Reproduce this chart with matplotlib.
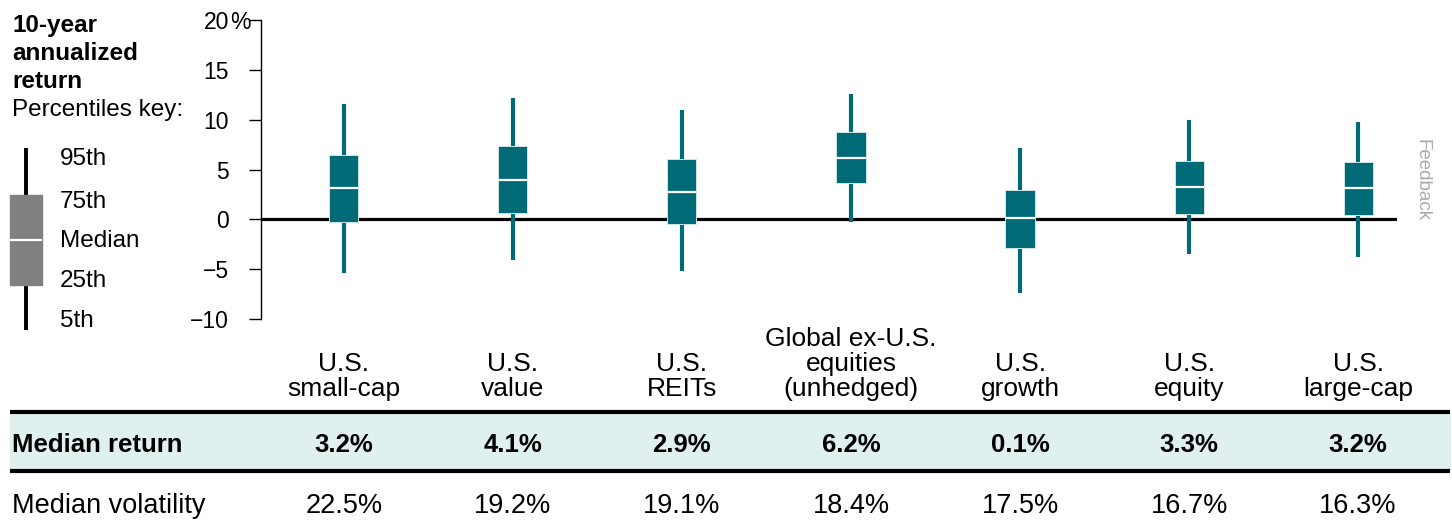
import numpy as np
import matplotlib.pyplot as plt
from matplotlib import transforms
from matplotlib.patches import Rectangle

plt.rcParams['font.family'] = ['Liberation Sans', 'DejaVu Sans']

# percentiles of 10-year annualized return (%)
categories = ["U.S.\nsmall-cap", "U.S.\nvalue", "U.S.\nREITs",
              "Global ex-U.S.\nequities\n(unhedged)", "U.S.\ngrowth",
              "U.S.\nequity", "U.S.\nlarge-cap"]
p95 = [11.6, 12.2, 11.0, 12.6, 7.2, 10.0, 9.8]
p75 = [6.5, 7.4, 6.1, 8.8, 2.9, 5.9, 5.8]
p50 = [3.1, 3.9, 2.7, 6.2, 0.1, 3.2, 3.1]
p25 = [-0.3, 0.6, -0.5, 3.6, -2.9, 0.5, 0.4]
p5 = [-5.4, -4.1, -5.2, -0.3, -7.4, -3.5, -3.8]

median_return = [3.2, 4.1, 2.9, 6.2, 0.1, 3.3, 3.2]
median_volatility = [22.5, 19.2, 19.1, 18.4, 17.5, 16.7, 16.3]

yticks = [-10, -5, 0, 5, 10, 15, 20]
ytick_labels = ["\u221210", "\u22125", "0", "5", "10", "15", "20"]

key_labels = ["95th", "75th", "Median", "25th", "5th"]

teal = "#006b76"

W, H = 1452, 529
fig = plt.figure(figsize=(W / 100, H / 100), dpi=100)

# overlay in pixel coords for the key and table
ov = fig.add_axes([0, 0, 1, 1])
ov.set_xlim(0, W)
ov.set_ylim(H, 0)
ov.axis("off")

ax = fig.add_axes([261 / W, 1 - 319 / H, (1397 - 261) / W, 299 / H])
ax.patch.set_alpha(0)

x = np.arange(len(categories))
p95 = np.array(p95); p75 = np.array(p75); p50 = np.array(p50)
p25 = np.array(p25); p5 = np.array(p5)
bw = 0.172

ax.axhline(0, color="black", lw=2.3, zorder=1)
ax.vlines(x, p5, p95, color=teal, lw=3, zorder=2)
ax.bar(x, p75 - p25, bottom=p25, width=bw, color=teal,
       edgecolor="#cfe6e8", linewidth=0.7, zorder=3)
ax.hlines(p50, x - bw / 2, x + bw / 2, color="white", lw=1.6, zorder=4)

ax.set_xlim(-0.49, 6.23)
ax.set_ylim(-10, 20)
ax.set_xticks([])
ax.set_yticks(yticks)
ax.set_yticklabels(ytick_labels)
for s in ["top", "right", "bottom"]:
    ax.spines[s].set_visible(False)
ax.spines["left"].set_linewidth(1.0)
ax.tick_params(axis="y", length=9, width=1.0, pad=14, labelsize=16.5,
               direction="out", colors="black")

yaxis_blend = transforms.blended_transform_factory(ax.transAxes, ax.transData)
ax.annotate("%", xy=(0, 20), xycoords=yaxis_blend, xytext=(-22.5, 0),
            textcoords="offset points", ha="left", va="center_baseline",
            fontsize=16.5)

cat_blend = transforms.blended_transform_factory(ax.transData, ov.transData)
for i, name in enumerate(categories):
    ax.text(x[i], 396, name, transform=cat_blend, ha="center", va="baseline",
            fontsize=19, linespacing=1.05)

# table
ov.add_patch(Rectangle((10, 413), 1440, 57, color="#dff0ef", zorder=0))
ov.hlines([412, 471], 10, 1450, color="black", lw=3)
ov.text(12, 452, "Median return", fontsize=18.5, fontweight="bold", va="baseline")
ov.text(12, 513, "Median volatility", fontsize=19.5, va="baseline")
for i in range(len(categories)):
    ax.text(x[i], 452, f"{median_return[i]:.1f}%", transform=cat_blend,
            ha="center", va="baseline", fontsize=18.5, fontweight="bold")
    ax.text(x[i], 513, f"{median_volatility[i]:.1f}%", transform=cat_blend,
            ha="center", va="baseline", fontsize=19.5)

# percentiles key
for txt, yb in zip(["10-year", "annualized", "return"], [32, 60, 88]):
    ov.text(12, yb, txt, fontsize=17.5, fontweight="bold", va="baseline")
ov.text(12, 116, "Percentiles key:", fontsize=17.5, va="baseline")
ov.vlines(26, 148, 330, color="black", lw=2.8)
ov.add_patch(Rectangle((10, 195), 32, 90, color="#808080", zorder=3))
ov.hlines(240, 10, 42, color="white", lw=1.6, zorder=4)
for txt, yb in zip(key_labels, [165, 208, 247, 287, 327]):
    ov.text(60, yb, txt, fontsize=17.5, va="baseline")

ov.text(1422, 180, "Feedback", rotation=270, ha="center", va="center",
        color="#aaaaaa", fontsize=13.5)

fig.savefig("out.png", dpi=100)
